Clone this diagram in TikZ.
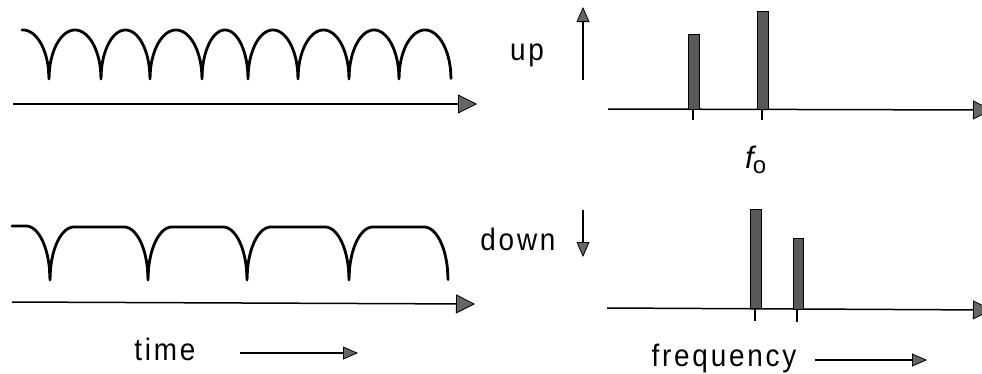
\documentclass[tikz,border=0pt]{standalone}
\usepackage{fontspec}
\usepackage{graphicx}
\setmainfont{Liberation Sans}[LetterSpace=10]
\newfontfamily\plainsans{Liberation Sans}
\usetikzlibrary{arrows.meta}
\newcommand{\narrow}[1]{\scalebox{0.9}[1]{#1}}
\begin{document}
\begin{tikzpicture}[x=1pt,y=-1pt,
  wave/.style={line width=2.8pt,line cap=round,line join=round},
  axis/.style={line width=1.5pt,-{Triangle[length=19pt,width=19pt,fill=black!60,line width=0.8pt]}},
  small/.style={line width=1.3pt,-{Triangle[length=15pt,width=13pt,fill=black!60,line width=0.8pt]}},
  bar/.style={fill=black!65,draw=black,line width=0.8pt},
  tick/.style={line width=1.5pt},
  lbl/.style={font=\fontsize{31}{34}\selectfont,inner sep=0pt,anchor=base}]
\useasboundingbox (0,0) rectangle (982,373);
% top waveform: semi-elliptic arches between cusps
\draw[wave] plot[domain=22:49,samples=40] (\x,{79-49*sqrt(max(0,1-((2*\x+3-49)/52)^2))})
  \foreach \a/\b in {49/101,101/150,150/202,202/248,248/298,298/349,349/399,399/451}{
    -- plot[domain=\a:\b,samples=120] (\x,{79-49*sqrt(max(0,1-((2*\x-\a-\b)/(\b-\a))^2))})};
% bottom waveform: flat arches with elliptic corners
\draw[wave] plot[domain=12:50,samples=60] (\x,{280-54*sqrt(max(0,1-(1-min(min(\x+49,50-\x)/24,1))^2))})
  \foreach \a/\b in {50/148,148/247,247/349,349/448}{
    -- plot[domain=\a:\b,samples=200] (\x,{280-53*sqrt(max(0,1-(1-min(min(\x-\a,\b-\x)/24,1))^2))})};
% time axes
\coordinate (ta1) at (13,104); \coordinate (tb1) at (477,104);
\coordinate (ta2) at (12,302); \coordinate (tb2) at (475,304);
\draw[axis] (ta1) -- (tb1);
\draw[axis] (ta2) -- (tb2);
% time label
\node[lbl] (time) at (165,360) {\narrow{time}};
\coordinate (tarr1) at (240,353); \coordinate (tarr2) at (358,353);
\draw[small] (tarr1) -- (tarr2);
% up / down
\node[lbl] (up) at (527,60) {\narrow{up}};
\coordinate (u1) at (583,80); \coordinate (u2) at (583,7);
\draw[small] (u1) -- (u2);
\node[lbl] (down) at (518,250) {\narrow{down}};
\coordinate (d1) at (583,210); \coordinate (d2) at (583,257);
\draw[small] (d1) -- (d2);
% frequency axes
\coordinate (fa1) at (608,109); \coordinate (fb1) at (992,110);
\coordinate (fa2) at (607,308); \coordinate (fb2) at (992,310);
\draw[axis] (fa1) -- (fb1);
\draw[axis] (fa2) -- (fb2);
% top spectrum
\draw[bar] (688,109) rectangle (699,34);
\draw[bar] (757,109) rectangle (768,11);
\draw[tick] (693,109) -- (693,120);
\draw[tick] (762,109) -- (762,120);
\node[lbl,anchor=base west] (f0) at (745,168) {\plainsans\itshape f\kern-1pt\raisebox{-5pt}{\upshape\fontsize{24}{24}\selectfont o}};
% bottom spectrum
\draw[bar] (750,308) rectangle (761,209);
\draw[bar] (793,309) rectangle (803,238);
\draw[tick] (755,308) -- (755,321);
\draw[tick] (797,309) -- (797,322);
\node[lbl] (freq) at (724,366) {\narrow{frequency}};
\coordinate (fr1) at (815,360); \coordinate (fr2) at (927,360);
\draw[small] (fr1) -- (fr2);
\end{tikzpicture}
\end{document}
